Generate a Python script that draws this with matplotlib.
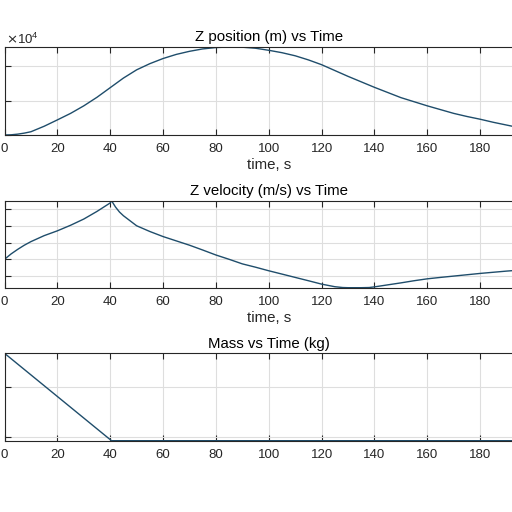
import matplotlib
matplotlib.use("Agg")
import matplotlib.pyplot as plt

plt.rcParams['font.family'] = ['Liberation Sans', 'DejaVu Sans']

# ---- data ----
t_pos = [0, 2.5, 5, 7.5, 10, 15, 20, 25, 30, 35, 40, 45, 50, 55, 60, 65, 70, 75,
         80, 85, 90, 95, 100, 105, 110, 115, 120, 125, 130, 135, 140, 145, 150,
         155, 160, 165, 170, 175, 180, 185, 190, 195, 200]
z_pos = [0, 60, 250, 550, 950, 2550, 4400, 6300, 8500, 11000, 13800, 16600,
         19000, 20800, 22300, 23500, 24400, 25100, 25500, 25660, 25600, 25300,
         24700, 24000, 23100, 21900, 20500, 18800, 17100, 15500, 13900, 12400,
         10900, 9700, 8500, 7400, 6300, 5400, 4600, 3700, 2900, 2100, 1300]

t_vel = [0, 2.5, 5, 7.5, 10, 15, 20, 25, 30, 35, 40, 40.5, 42, 43.5, 45, 50, 55,
         60, 65, 70, 75, 80, 85, 90, 95, 100, 105, 110, 115, 120, 125, 128, 130,
         135, 138, 140, 145, 150, 155, 160, 165, 170, 175, 180, 185, 190, 195,
         200]
z_vel = [0, 65, 120, 170, 213, 285, 343, 410, 485, 577, 679, 706, 630, 570,
         525, 404, 335, 274, 222, 170, 112, 52, 0, -55, -95, -138, -178, -218,
         -258, -299, -330, -340, -342, -342, -340, -332, -308, -284, -258, -235,
         -218, -202, -186, -170, -156, -142, -130, -120]

t_mass = [0, 40.5, 200]
mass = [1334, 460, 460]

pos_ticks = [0, 10000, 20000]
pos_ticklabels = ['0', '1', '2']
vel_ticks = [-200, 0, 200, 400, 600]
mass_ticks = [500, 1000]
x_ticks = [0, 20, 40, 60, 80, 100, 120, 140, 160, 180]

titles = ['Z position (m) vs Time', 'Z velocity (m/s) vs Time', 'Mass vs Time (kg)']
xlabel = 'time, s'

# ---- layout ----
W = H = 512
fig = plt.figure(figsize=(5.12, 5.12), dpi=100)
left = 4.5 / W
width = (533 - 4.5) / W
boxes = [(47, 135), (200.7, 287.7), (353.3, 440.7)]
line_color = '#1f4d6b'
spine_color = '#262626'

axes = []
for (top, bot) in boxes:
    ax = fig.add_axes([left, 1 - bot / H, width, (bot - top) / H])
    axes.append(ax)

series = [(t_pos, z_pos, pos_ticks, (0, 25660)),
          (t_vel, z_vel, vel_ticks, (-342, 706)),
          (t_mass, mass, mass_ticks, (460, 1334))]

for i, (ax, (tx, yv, yt, yl)) in enumerate(zip(axes, series)):
    ax.plot(tx, yv, color=line_color, lw=1.0)
    ax.set_xlim(0, 200)
    ax.set_ylim(*yl)
    ax.set_xticks(x_ticks)
    ax.set_yticks(yt)
    if i == 0:
        ax.set_yticklabels(pos_ticklabels)
    ax.grid(True, color='#dedede', lw=0.8)
    ax.set_axisbelow(True)
    ax.tick_params(direction='in', length=4, width=0.8, colors=spine_color,
                   labelsize=9.5, pad=6, top=True, right=True,
                   labelcolor='#262626')
    for s in ax.spines.values():
        s.set_color(spine_color)
        s.set_linewidth(0.8)
    ax.set_title(titles[i], fontsize=10.8, pad=4, color='black')
    if i < 2:
        ax.set_xlabel(xlabel, fontsize=10.8, labelpad=2, color='#262626')

# exponent label for the position axis
axes[0].text(0.003, 1.0, r'$\times\mathregular{10^{4}}$', transform=axes[0].transAxes,
             ha='left', va='bottom', fontsize=9.5, color='#262626')

fig.savefig('out.png', dpi=100)
